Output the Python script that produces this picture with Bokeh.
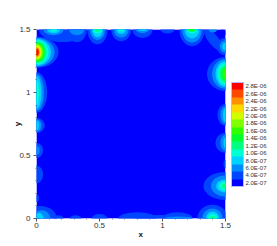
from bokeh.plotting import figure
from bokeh.embed import file_html
from bokeh.resources import INLINE
from bokeh.models import ColorBar, LinearColorMapper, FixedTicker, ColumnDataSource, AllLabels, Title

x_ticks = [0, 0.5, 1, 1.5]
minor_ticks = [0.1, 0.2, 0.3, 0.4, 0.6, 0.7, 0.8, 0.9, 1.1, 1.2, 1.3, 1.4]
level_labels = ["2.0E-07", "4.0E-07", "6.0E-07", "8.0E-07", "1.0E-06", "1.2E-06", "1.4E-06",
                "1.6E-06", "1.8E-06", "2.0E-06", "2.2E-06", "2.4E-06", "2.6E-06", "2.8E-06"]
palette = ["#0000ff", "#0046ff", "#008cff", "#00d2ff", "#00ffd2", "#00ff80", "#00ff30",
           "#30ff00", "#80ff00", "#d0ff00", "#ffd800", "#ff9000", "#ff4800", "#ff0000"]

# Each contour lobe: centre, then semi-axes for the nested levels 1, 2, 3 ...
lobe_x = [0, 0, 0, 0, 0, 0,
          0.03, 0.04, 0.02,
          0.175, 0.31, 0.5, 0.80, 0.984, 1.12, 1.127, 1.397,
          0.21, 0.135, 0.32, 0.484, 0.672, 0.841, 1.04, 1.234, 1.405, 1.40,
          1.5, 1.5, 1.5, 1.5, 1.5, 1.5]
lobe_y = [1.32, 1.0, 0.738, 0.54, 0.35, 0.16,
          0, 0, 0,
          0, 0, 0, 0, 0, 0, 0, 0,
          1.5, 1.5, 1.5, 1.5, 1.5, 1.5, 1.5, 1.5, 1.417, 1.5,
          1.365, 1.147, 0.821, 0.6, 0.432, 0.258]
lobe_start = [1, 1, 1, 1, 1, 1,
              1, 2, 3,
              1, 1, 1, 1, 1, 1, 2, 1,
              1, 2, 1, 1, 1, 1, 1, 1, 1, 2,
              1, 1, 1, 1, 1, 1]
lobe_rx = [
    [.175, .143, .115, .095, .079, .067, .06, .048, .04, .032, .024, .02, .016],
    [.085, .06, .04, .02], [.066, .04, .02], [.053, .025], [.053], [.02],
    [.13], [.07], [.035],
    [.04], [.045], [.063], [.15], [.2], [.12], [.11], [.12, .08, .052, .036, .02],
    [.19], [.08, .052, .028], [.08, .06], [.08, .06, .044, .036, .024], [.08, .06, .04, .024], [.08, .052, .032], [.056],
    [.1, .08, .06, .04, .032, .032, .016], [.11], [.032],
    [.07, .045, .025], [.147, .107, .08, .064, .048, .036, .02], [.064, .04, .02], [.08, .04, .016], [.016],
    [.175, .115, .075, .052, .028],
]
lobe_ry = [
    [.123, .115, .107, .099, .087, .079, .071, .063, .056, .048, .04, .032, .024],
    [.16, .145, .13, .1], [.06, .05, .04], [.06, .035], [.07], [.03],
    [.1], [.065], [.045],
    [.025], [.025], [.035], [.05], [.028], [.05], [.016], [.11, .08, .055, .036, .02],
    [.1], [.045, .03, .016], [.1, .045], [.117, .085, .061, .032, .016], [.093, .064, .036, .016], [.067, .029, .012], [.032],
    [.133, .103, .071, .032, .016, .016, .008], [.04], [.024],
    [.07, .05, .03], [.135, .119, .103, .087, .071, .056, .04], [.087, .071, .056], [.08, .064, .04], [.032],
    [.111, .083, .052, .036, .02],
]
lobe_angle = [0.0] * 25 + [-0.9] + [0.0] * 7

# Small darker (lowest level) pockets in two corners
pocket_x = [1.476, 0.015]
pocket_y = [1.472, 0.0]
pocket_r = [0.03, 0.012]

rows = []
for cx, cy, s, rxs, rys, a in zip(lobe_x, lobe_y, lobe_start, lobe_rx, lobe_ry, lobe_angle):
    for i, (rx, ry) in enumerate(zip(rxs, rys)):
        rows.append((s + i, cx, cy, 2 * rx, 2 * ry, a))
rows.sort(key=lambda r: r[0])
def src(part):
    return ColumnDataSource(dict(
        x=[r[1] for r in part], y=[r[2] for r in part], w=[r[3] for r in part],
        h=[r[4] for r in part], a=[r[5] for r in part], c=[palette[r[0]] for r in part]))

p = figure(frame_width=189, frame_height=189, output_backend="svg", toolbar_location=None,
           x_range=(0, 1.5), y_range=(0, 1.5), min_border_left=36, min_border_right=52,
           min_border_top=29, min_border_bottom=28, background_fill_color="#0000ff",
           outline_line_color="#b4b4ff", outline_line_width=1, tools="")
p.grid.visible = False

low = [r for r in rows if r[0] == 1]
high = [r for r in rows if r[0] > 1]
p.ellipse("x", "y", width="w", height="h", angle="a", source=src(low), fill_color="c", line_color=None)
p.ellipse(pocket_x, pocket_y, width=[2 * r for r in pocket_r], height=[2 * r for r in pocket_r],
          fill_color=palette[0], line_color=None)
p.ellipse("x", "y", width="w", height="h", angle="a", source=src(high), fill_color="c", line_color=None)

for ax in (p.xaxis[0], p.yaxis[0]):
    ax.ticker = FixedTicker(ticks=x_ticks, minor_ticks=minor_ticks)
    ax.major_label_overrides = {0: "0", 0.5: "0.5", 1: "1", 1.5: "1.5"}
    ax.major_label_text_font = "Liberation Sans"
    ax.major_label_text_font_size = "8px"
    ax.major_label_text_color = "#333333"
    ax.axis_line_color = None
    ax.major_tick_line_color = "#555555"
    ax.minor_tick_line_color = "#777777"
    ax.major_tick_in = 0
    ax.minor_tick_in = 0
    ax.major_tick_out = 3
    ax.minor_tick_out = 1
p.xaxis[0].major_label_standoff = 1
p.yaxis[0].major_label_standoff = 3
p.yaxis[0].major_label_orientation = "horizontal"

p.yaxis[0].axis_label = "y"
p.yaxis[0].axis_label_standoff = -6
p.yaxis[0].axis_label_text_font = "Liberation Sans"
p.yaxis[0].axis_label_text_font_size = "8px"
p.yaxis[0].axis_label_text_font_style = "bold"
p.yaxis[0].axis_label_text_color = "#111111"

p.add_layout(Title(text="x", align="left", offset=102, standoff=-5, text_font="Liberation Sans",
                   text_font_size="8px", text_font_style="bold", text_color="#111111"), "below")

mapper = LinearColorMapper(palette=palette, low=0, high=14)
cb_ticks = [i + 0.5 for i in range(14)]
cb = ColorBar(color_mapper=mapper, ticker=FixedTicker(ticks=cb_ticks),
              major_label_overrides={t: l for t, l in zip(cb_ticks, level_labels)},
              major_label_policy=AllLabels(),
              width=12, height=104, location=(195, 32), padding=0, margin=0,
              major_tick_line_color=None, minor_tick_line_color=None,
              bar_line_color="#b8b8ff", bar_line_width=1,
              major_label_text_font="Liberation Sans", major_label_text_font_size="6px",
              major_label_text_color="#333333", label_standoff=2,
              background_fill_color=None, border_line_color=None)
p.add_layout(cb)

open("out.html", "w").write(file_html(p, INLINE))
